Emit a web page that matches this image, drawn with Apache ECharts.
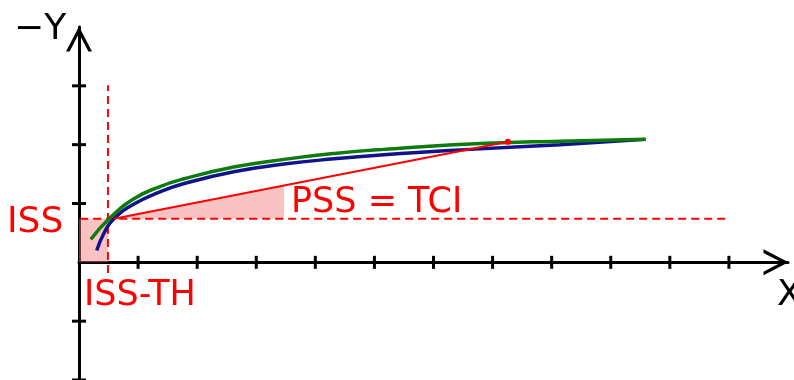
<!DOCTYPE html>
<html>
<head>
<meta charset="utf-8">
<title>ISS / PSS</title>
<script src="https://cdn.jsdelivr.net/npm/echarts@6.0.0/dist/echarts.min.js"></script>
<style>
  html, body { margin: 0; padding: 0; background: #fff; }
  #chart { width: 794px; height: 380px; }
</style>
</head>
<body>
<div id="chart"></div>
<script>
// tick positions on the two axes
var xTicks = [1, 2, 3, 4, 5, 6, 7, 8, 9, 10, 11];
var yTicks = [-2, -1, 1, 2, 3];

// green curve
var greenX = [0.20, 0.51, 0.93, 1.35, 1.78, 2.62, 3.47, 4.32, 5.16, 6.62, 8.14, 9.59];
var greenY = [0.39, 0.74, 1.08, 1.28, 1.42, 1.62, 1.75, 1.85, 1.92, 2.01, 2.06, 2.09];
// blue curve
var blueX = [0.30, 0.42, 0.59, 0.93, 1.35, 1.78, 2.62, 3.47, 4.32, 5.16, 6.62, 8.14, 9.59];
var blueY = [0.20, 0.49, 0.74, 0.99, 1.19, 1.34, 1.54, 1.67, 1.76, 1.83, 1.92, 2.00, 2.09];
// red line (PSS = TCI) start / end
var redX = [0.59, 7.26];
var redY = [0.74, 2.05];
// shaded wedge under the red line
var wedgeX = [0.59, 3.47];
var wedgeY = [0.74, 1.30];

var ISS = 0.74;      // level of the horizontal dashed line
var ISS_TH = 0.49;   // position of the vertical dashed line
var issLineX = [-0.2, 11];
var thLineY = [-0.18, 3.01];

function zip(a, b) {
    return a.map(function (v, i) { return [v, b[i]]; });
}

var chevron = 'path://M13,0 L26,25 L22.4,25 L13,7 L3.6,25 L0,25 Z';
var red = '#ff0000';
var font = '"DejaVu Sans", Verdana, sans-serif';

var option = {
    animation: false,
    grid: { left: 79, right: 6, top: 27, bottom: 0 },
    xAxis: {
        type: 'value', min: 0, max: 12,
        axisLine: {
            onZero: true,
            lineStyle: { color: '#000', width: 3 },
            symbol: ['none', chevron],
            symbolSize: [26, 25],
            symbolOffset: [0, -12]
        },
        axisTick: { show: false },
        axisLabel: { show: false },
        splitLine: { show: false }
    },
    yAxis: {
        type: 'value', min: -2, max: 4,
        axisLine: {
            onZero: true,
            lineStyle: { color: '#000', width: 3 },
            symbol: ['none', chevron],
            symbolSize: [26, 25],
            symbolOffset: [0, -12]
        },
        axisTick: { show: false },
        axisLabel: { show: false },
        splitLine: { show: false }
    },
    graphic: [
        { type: 'text', left: 14, top: 12, style: { text: '\u2212Y', fill: '#000', font: '36px ' + font } },
        { type: 'text', left: 777, top: 278, style: { text: 'X', fill: '#000', font: '36px ' + font } },
        { type: 'text', left: 7, top: 205, style: { text: 'ISS', fill: red, font: '36px ' + font } },
        { type: 'text', left: 84, top: 278, style: { text: 'ISS-TH', fill: red, font: '35px ' + font } },
        { type: 'text', left: 291, top: 185, style: { text: 'PSS = TCI', fill: red, font: '35px ' + font } }
    ],
    series: [
        {
            // pink rectangle + wedge
            type: 'line', silent: true, symbol: 'none',
            data: zip(wedgeX, wedgeY),
            lineStyle: { width: 0 },
            areaStyle: { color: 'rgba(245, 120, 120, 0.45)', origin: ISS, opacity: 1 },
            markArea: {
                silent: true,
                itemStyle: { color: 'rgba(245, 120, 120, 0.45)' },
                data: [[{ coord: [0, 0] }, { coord: [ISS_TH, ISS] }]]
            },
            z: 1
        },
        {
            type: 'line', silent: true, symbol: 'none', clip: false,
            data: zip(issLineX, [ISS, ISS]),
            lineStyle: { color: red, width: 2, type: [8, 5] },
            z: 2
        },
        {
            type: 'line', silent: true, symbol: 'none', clip: false,
            data: zip([ISS_TH, ISS_TH], thLineY),
            lineStyle: { color: red, width: 2, type: [8, 5] },
            z: 2
        },
        {
            type: 'line', silent: true, symbol: 'none', smooth: 0.5,
            data: zip(blueX, blueY),
            lineStyle: { color: '#12128c', width: 3.5 },
            z: 3
        },
        {
            type: 'line', silent: true, symbol: 'none', smooth: 0.5,
            data: zip(greenX, greenY),
            lineStyle: { color: '#0c7c0c', width: 3.5 },
            z: 4
        },
        {
            type: 'line', silent: true, symbol: 'none', showSymbol: true,
            data: [
                [redX[0], redY[0]],
                { value: [redX[1], redY[1]], symbol: 'circle', symbolSize: 6 }
            ],
            lineStyle: { color: red, width: 2 },
            itemStyle: { color: red },
            z: 5
        },
        {
            // axis ticks crossing the x axis
            type: 'scatter', silent: true, symbol: 'rect', symbolSize: [3, 13],
            data: xTicks.map(function (t) { return [t, 0]; }),
            itemStyle: { color: '#000', opacity: 1 },
            z: 6
        },
        {
            // axis ticks crossing the y axis
            type: 'scatter', silent: true, symbol: 'rect', symbolSize: [14, 3],
            data: yTicks.map(function (t) { return [0, t]; }),
            itemStyle: { color: '#000', opacity: 1 },
            z: 6
        }
    ]
};

var myChart = echarts.init(document.getElementById('chart'));
myChart.setOption(option);
window.addEventListener('resize', function () {
    myChart.resize();
});
</script>
</body>
</html>
